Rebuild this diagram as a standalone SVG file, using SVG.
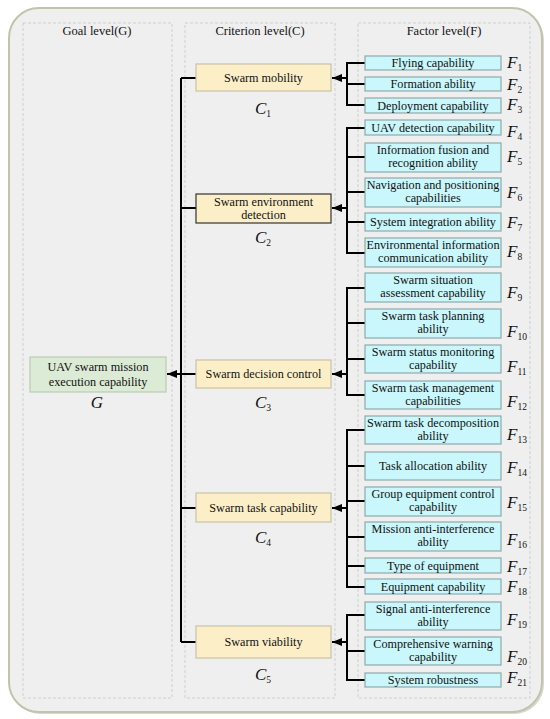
<svg xmlns="http://www.w3.org/2000/svg" width="550" height="719" viewBox="0 0 550 719">
<defs>
<style>
text{font-family:"Liberation Serif","Times New Roman",serif;fill:#111}
.hdr{font-size:12.5px;text-anchor:middle}
.t{font-size:12.2px;text-anchor:middle}
.lab{font-size:17px;font-style:italic;text-anchor:middle}
.sub{font-size:9.5px;font-style:normal}
.fl{font-size:17px;font-style:italic}
.panel{fill:none;stroke:#cfcfcf;stroke-width:1;stroke-dasharray:3 2}
.fbox{fill:#c9f7fb;stroke:#8fa8aa;stroke-width:1.2}
.cbox{fill:#fcefc8;stroke:#c9c1a6;stroke-width:1.2}
.gbox{fill:#dcebd5;stroke:#b9cbb1;stroke-width:1.2}
.ln{fill:none;stroke:#000;stroke-width:2}
</style>
<marker id="ah" markerWidth="10" markerHeight="8" refX="10" refY="4" orient="auto" markerUnits="userSpaceOnUse">
<path d="M0,0 L10,4 L0,8 Z" fill="#000"/>
</marker>
</defs>
<rect x="0" y="0" width="550" height="719" fill="#ffffff"/>
<rect x="11" y="10" width="533" height="704" rx="30" ry="30" fill="#d8d8d0"/>
<rect x="9" y="8" width="533" height="704" rx="30" ry="30" fill="#efefef" stroke="#c3c3ac" stroke-width="2"/>
<g id="panels">
<rect class="panel" x="23" y="23" width="149" height="675"/>
<rect class="panel" x="185" y="23" width="150" height="675"/>
<rect class="panel" x="358" y="23" width="172" height="675"/>
<text class="hdr" x="97" y="35">Goal level(G)</text>
<text class="hdr" x="260" y="35">Criterion level(C)</text>
<text class="hdr" x="444" y="35">Factor level(F)</text>
</g>
<g id="connectors">
<path class="ln" d="M181,78 V642 M196,78 H181 M196,208 H181 M196,374 H181 M196,508 H181 M196,642 H181"/>
<path class="ln" d="M181,374 H167" marker-end="url(#ah)"/>
<path class="ln" d="M365,63 H347 V105 H365 M347,84 H365"/>
<path class="ln" d="M347,78 H332" marker-end="url(#ah)"/>
<path class="ln" d="M365,128 H347 V253 H365 M347,157 H365 M347,192 H365 M347,222 H365"/>
<path class="ln" d="M347,208 H332" marker-end="url(#ah)"/>
<path class="ln" d="M365,288 H347 V395 H365 M347,323 H365 M347,359 H365"/>
<path class="ln" d="M347,374 H332" marker-end="url(#ah)"/>
<path class="ln" d="M365,430 H347 V587 H365 M347,466 H365 M347,501 H365 M347,537 H365 M347,566 H365"/>
<path class="ln" d="M347,508 H332" marker-end="url(#ah)"/>
<path class="ln" d="M365,615 H347 V680 H365 M347,651 H365"/>
<path class="ln" d="M347,642 H332" marker-end="url(#ah)"/>
</g>
<g id="G">
<rect class="gbox" x="30" y="357" width="136" height="35"/>
<text class="t" x="98" y="371">UAV swarm mission</text>
<text class="t" x="98" y="386">execution capability</text>
<text class="lab" x="97" y="408">G</text>
</g>
<g id="C1">
<rect class="cbox" x="196" y="64" width="135" height="27"/>
<text class="t" x="263.5" y="82">Swarm mobility</text>
<text class="lab" x="263" y="114">C<tspan class="sub" dy="3">1</tspan></text>
</g>
<g id="C2">
<rect class="cbox" x="196" y="194" width="135" height="29" style="stroke:#333"/>
<text class="t" x="263.5" y="206">Swarm environment</text>
<text class="t" x="263.5" y="219">detection</text>
<text class="lab" x="263" y="243">C<tspan class="sub" dy="3">2</tspan></text>
</g>
<g id="C3">
<rect class="cbox" x="196" y="360" width="135" height="28"/>
<text class="t" x="263.5" y="378">Swarm decision control</text>
<text class="lab" x="263" y="408">C<tspan class="sub" dy="3">3</tspan></text>
</g>
<g id="C4">
<rect class="cbox" x="196" y="493" width="135" height="29"/>
<text class="t" x="263.5" y="512">Swarm task capability</text>
<text class="lab" x="263" y="543">C<tspan class="sub" dy="3">4</tspan></text>
</g>
<g id="C5">
<rect class="cbox" x="196" y="626" width="135" height="32"/>
<text class="t" x="263.5" y="646">Swarm viability</text>
<text class="lab" x="263" y="680">C<tspan class="sub" dy="3">5</tspan></text>
</g>
<g id="F1"><rect class="fbox" x="365" y="56" width="136" height="14"/><text class="t" x="433" y="67">Flying capability</text><text class="fl" x="507" y="68">F<tspan class="sub" dy="3">1</tspan></text></g>
<g id="F2"><rect class="fbox" x="365" y="77" width="136" height="14"/><text class="t" x="433" y="88">Formation ability</text><text class="fl" x="507" y="90">F<tspan class="sub" dy="3">2</tspan></text></g>
<g id="F3"><rect class="fbox" x="365" y="98" width="136" height="15"/><text class="t" x="433" y="109.5">Deployment capability</text><text class="fl" x="507" y="110">F<tspan class="sub" dy="3">3</tspan></text></g>
<g id="F4"><rect class="fbox" x="365" y="120" width="136" height="15"/><text class="t" x="433" y="131.5">UAV detection capability</text><text class="fl" x="507" y="137">F<tspan class="sub" dy="3">4</tspan></text></g>
<g id="F5"><rect class="fbox" x="365" y="143" width="136" height="29"/><text class="t" x="433" y="154">Information fusion and</text><text class="t" x="433" y="167">recognition ability</text><text class="fl" x="507" y="162">F<tspan class="sub" dy="3">5</tspan></text></g>
<g id="F6"><rect class="fbox" x="365" y="178" width="136" height="29"/><text class="t" x="433" y="189">Navigation and positioning</text><text class="t" x="433" y="202">capabilities</text><text class="fl" x="507" y="198">F<tspan class="sub" dy="3">6</tspan></text></g>
<g id="F7"><rect class="fbox" x="365" y="213" width="136" height="18"/><text class="t" x="433" y="226">System integration ability</text><text class="fl" x="507" y="228">F<tspan class="sub" dy="3">7</tspan></text></g>
<g id="F8"><rect class="fbox" x="365" y="238" width="136" height="29"/><text class="t" x="433" y="249">Environmental information</text><text class="t" x="433" y="262">communication ability</text><text class="fl" x="507" y="257">F<tspan class="sub" dy="3">8</tspan></text></g>
<g id="F9"><rect class="fbox" x="365" y="273" width="136" height="29"/><text class="t" x="433" y="284">Swarm situation</text><text class="t" x="433" y="297">assessment capability</text><text class="fl" x="507" y="298">F<tspan class="sub" dy="3">9</tspan></text></g>
<g id="F10"><rect class="fbox" x="365" y="309" width="136" height="29"/><text class="t" x="433" y="320">Swarm task planning</text><text class="t" x="433" y="333">ability</text><text class="fl" x="507" y="337">F<tspan class="sub" dy="3">10</tspan></text></g>
<g id="F11"><rect class="fbox" x="365" y="345" width="136" height="28"/><text class="t" x="433" y="356">Swarm status monitoring</text><text class="t" x="433" y="369">capability</text><text class="fl" x="507" y="372">F<tspan class="sub" dy="3">11</tspan></text></g>
<g id="F12"><rect class="fbox" x="365" y="381" width="136" height="28"/><text class="t" x="433" y="392">Swarm task management</text><text class="t" x="433" y="405">capabilities</text><text class="fl" x="507" y="407">F<tspan class="sub" dy="3">12</tspan></text></g>
<g id="F13"><rect class="fbox" x="365" y="416" width="136" height="28"/><text class="t" x="433" y="427">Swarm task decomposition</text><text class="t" x="433" y="440">ability</text><text class="fl" x="507" y="440">F<tspan class="sub" dy="3">13</tspan></text></g>
<g id="F14"><rect class="fbox" x="365" y="452" width="136" height="28"/><text class="t" x="433" y="470">Task allocation ability</text><text class="fl" x="507" y="473">F<tspan class="sub" dy="3">14</tspan></text></g>
<g id="F15"><rect class="fbox" x="365" y="487" width="136" height="29"/><text class="t" x="433" y="498">Group equipment control</text><text class="t" x="433" y="511">capability</text><text class="fl" x="507" y="508">F<tspan class="sub" dy="3">15</tspan></text></g>
<g id="F16"><rect class="fbox" x="365" y="522" width="136" height="29"/><text class="t" x="433" y="533">Mission anti-interference</text><text class="t" x="433" y="546">ability</text><text class="fl" x="507" y="545">F<tspan class="sub" dy="3">16</tspan></text></g>
<g id="F17"><rect class="fbox" x="365" y="558" width="136" height="15"/><text class="t" x="433" y="569.5">Type of equipment</text><text class="fl" x="507" y="572">F<tspan class="sub" dy="3">17</tspan></text></g>
<g id="F18"><rect class="fbox" x="365" y="579" width="136" height="15"/><text class="t" x="433" y="590.5">Equipment capability</text><text class="fl" x="507" y="592">F<tspan class="sub" dy="3">18</tspan></text></g>
<g id="F19"><rect class="fbox" x="365" y="602" width="136" height="28"/><text class="t" x="433" y="613">Signal anti-interference</text><text class="t" x="433" y="626">ability</text><text class="fl" x="507" y="625">F<tspan class="sub" dy="3">19</tspan></text></g>
<g id="F20"><rect class="fbox" x="365" y="637" width="136" height="28"/><text class="t" x="433" y="648">Comprehensive warning</text><text class="t" x="433" y="661">capability</text><text class="fl" x="507" y="662">F<tspan class="sub" dy="3">20</tspan></text></g>
<g id="F21"><rect class="fbox" x="365" y="673" width="136" height="14"/><text class="t" x="433" y="684">System robustness</text><text class="fl" x="507" y="683">F<tspan class="sub" dy="3">21</tspan></text></g>
</svg>
